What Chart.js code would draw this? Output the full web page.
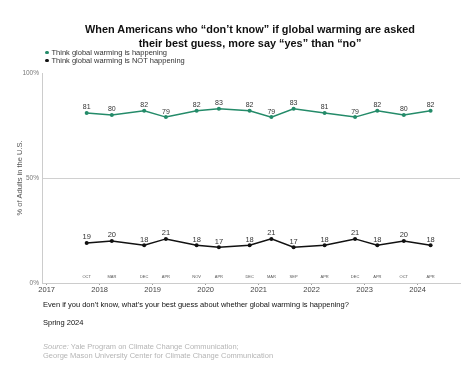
<!DOCTYPE html>
<html>
<head>
<meta charset="utf-8">
<script src="https://cdn.jsdelivr.net/npm/chart.js@4.4.1/dist/chart.umd.min.js"></script>
<style>
  body { margin: 0; background: #fff; font-family: "Liberation Sans", Arial, sans-serif; }
  #wrap { position: relative; width: 474px; height: 370px; overflow: hidden; }
  #chartGW { position: absolute; left: 0; top: 0; }
  .txt { position: absolute; white-space: nowrap; }
  #title { left: 0; width: 500px; top: 22px; text-align: center; font-weight: bold; font-size: 10.9px; line-height: 14px; color: #111; }
  #legend { left: 45px; top: 49px; font-size: 7.5px; line-height: 8px; color: #333; }
  #legend span.dot { display: inline-block; width: 3.5px; height: 3.5px; border-radius: 50%; margin-right: 3px; vertical-align: 1px; }
  .foot { left: 43px; font-size: 7.5px; color: #111; }
  .src { left: 43px; font-size: 7.5px; color: #b5b5b5; }
</style>
</head>
<body>
<div id="wrap">
  <canvas id="chartGW" width="474" height="370"></canvas>
  <div class="txt" id="title">When Americans who “don’t know” if global warming are asked<br>their best guess, more say “yes” than “no”</div>
  <div class="txt" id="legend"></div>
  <div class="txt foot" style="top:300px">Even if you don’t know, what’s your best guess about whether global warming is happening?</div>
  <div class="txt foot" style="top:318px">Spring 2024</div>
  <div class="txt src" style="top:342px"><i>Source:</i> Yale Program on Climate Change Communication;</div>
  <div class="txt src" style="top:351px">George Mason University Center for Climate Change Communication</div>
</div>
<script>
const chartGW = document.getElementById("chartGW");

// survey waves (decimal year), month abbreviations, results in %
const surveyDates = [2017.755, 2018.23, 2018.84, 2019.25, 2019.83, 2020.25, 2020.83, 2021.24, 2021.66, 2022.245, 2022.82, 2023.24, 2023.74, 2024.245];
const monthLabels = ["OCT", "MAR", "DEC", "APR", "NOV", "APR", "DEC", "MAR", "SEP", "APR", "DEC", "APR", "OCT", "APR"];
const happening = [81, 80, 82, 79, 82, 83, 82, 79, 83, 81, 79, 82, 80, 82];
const notHappening = [19, 20, 18, 21, 18, 17, 18, 21, 17, 18, 21, 18, 20, 18];
const seriesNames = ["Think global warming is happening", "Think global warming is NOT happening"];
const yTicks = [0, 50, 100];

function toPoints(values) {
	return values.map(function(v, i){
		return { x: surveyDates[i], y: v };
	});
}

// value labels over each point + month labels over the x axis
const labelPlugin = {
	id: "labelPlugin",
	afterDatasetsDraw(chart) {
		const ctx = chart.ctx;
		const xs = chart.scales.x;
		const ys = chart.scales.y;
		ctx.save();
		ctx.textAlign = "center";
		ctx.textBaseline = "bottom";
		chart.data.datasets.forEach(function(ds, di){
			ctx.font = (di === 0 ? "7px" : "7.5px") + " 'Liberation Sans', Arial, sans-serif";
			ctx.fillStyle = "#333";
			ds.data.forEach(function(p){
				ctx.fillText(p.y, xs.getPixelForValue(p.x), ys.getPixelForValue(p.y) - 2);
			});
		});
		ctx.font = "4px 'Liberation Sans', Arial, sans-serif";
		ctx.fillStyle = "#555";
		ctx.textBaseline = "middle";
		monthLabels.forEach(function(m, i){
			ctx.fillText(m, xs.getPixelForValue(surveyDates[i]), ys.bottom - 6);
		});
		ctx.restore();
	}
};

const gwChart = new Chart(chartGW, {
	type: "line",
	data: {
		datasets: [{
			label: seriesNames[0],
			data: toPoints(happening),
			borderColor: "#248b69",
			backgroundColor: "#248b69",
			borderWidth: 1.5,
			pointRadius: 2,
			pointBorderWidth: 0,
			tension: 0
		}, {
			label: seriesNames[1],
			data: toPoints(notHappening),
			borderColor: "#111",
			backgroundColor: "#111",
			borderWidth: 1.5,
			pointRadius: 2,
			pointBorderWidth: 0,
			tension: 0
		}]
	},
	options: {
		responsive: false,
		animation: false,
		layout: {
			padding: { left: 0, right: 14, top: 73, bottom: 75 }
		},
		plugins: {
			legend: { display: false },
			title: { display: false },
			tooltip: { enabled: false }
		},
		scales: {
			x: {
				type: "linear",
				min: 2016.912,
				max: 2024.8,
				afterFit: function(scale){ scale.height = 12; },
				afterBuildTicks: function(scale){
					scale.ticks = [2017, 2018, 2019, 2020, 2021, 2022, 2023, 2024].map(function(v){ return { value: v }; });
				},
				ticks: {
					callback: function(v){ return String(v); },
					font: { size: 7.5, family: "'Liberation Sans', Arial, sans-serif" },
					color: "#444",
					padding: 0,
					maxRotation: 0
				},
				grid: {
					drawOnChartArea: false,
					drawTicks: true,
					tickLength: 2,
					color: "#999"
				},
				border: { display: true, color: "#ccc", width: 1 }
			},
			y: {
				min: 0,
				max: 100,
				afterFit: function(scale){ scale.width = 42; },
				afterBuildTicks: function(scale){
					scale.ticks = yTicks.map(function(v){ return { value: v }; });
				},
				ticks: {
					callback: function(v){ return v + "%"; },
					font: { size: 6.5, family: "'Liberation Sans', Arial, sans-serif" },
					color: "#777",
					padding: 3
				},
				grid: {
					drawTicks: false,
					color: function(c){ return c.tick && c.tick.value === 50 ? "#d0d0d0" : "rgba(0,0,0,0)"; }
				},
				border: { display: true, color: "#ccc", width: 1 },
				title: {
					display: true,
					text: "% of Adults in the U.S.",
					font: { size: 7.5, family: "'Liberation Sans', Arial, sans-serif" },
					color: "#555",
					padding: { top: 15, bottom: 0 }
				}
			}
		}
	},
	plugins: [labelPlugin]
});

// legend built from the datasets
const legendBox = document.getElementById("legend");
gwChart.data.datasets.forEach(function(ds){
	const row = document.createElement("div");
	row.innerHTML = '<span class="dot" style="background:' + ds.borderColor + '"></span>' + ds.label;
	legendBox.appendChild(row);
});
</script>
</body>
</html>
